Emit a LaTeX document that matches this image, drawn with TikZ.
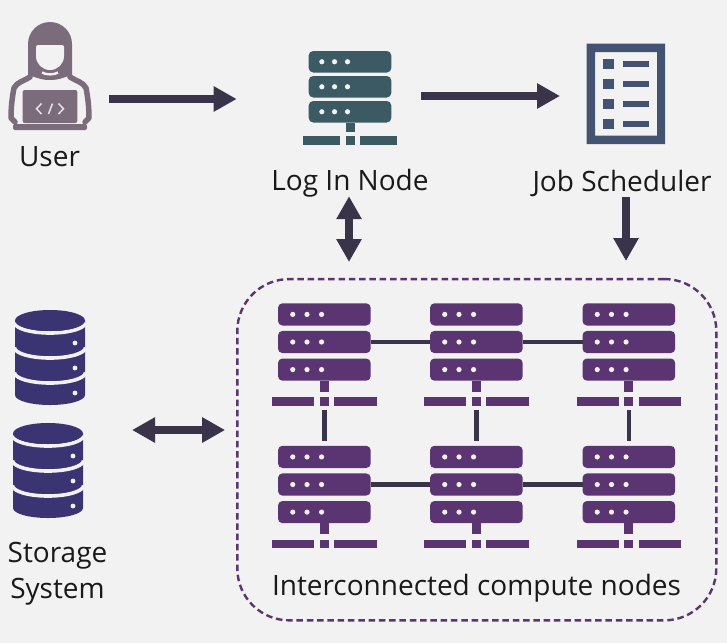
\documentclass[tikz,border=0pt]{standalone}
\usepackage{fontspec}
\setmainfont{Open Sans}
\usetikzlibrary{arrows.meta,calc}
\definecolor{bgc}{HTML}{F2F2F2}
\definecolor{usr}{HTML}{7B6C7B}
\definecolor{lgn}{HTML}{3B5A63}
\definecolor{sch}{HTML}{445372}
\definecolor{dbc}{HTML}{3A3473}
\definecolor{cmp}{HTML}{5B3571}
\definecolor{arc}{HTML}{39344A}
\tikzset{
  lbl/.style={font=\fontsize{28}{36}\selectfont,text=black!90,inner sep=0pt,align=center},
  box/.style={inner sep=0pt,outer sep=0pt,draw=none},
  arr/.style={line width=8pt,arc,-{Triangle[length=23pt,width=24pt]}},
  dbl/.style={line width=8pt,arc,{Triangle[length=23pt,width=24pt]}-{Triangle[length=23pt,width=24pt]}},
  link/.style={line width=4.5pt,arc},
  tier/.style={rounded corners=4.5pt,inner sep=0pt,outer sep=0pt,draw=none},
}
% name, x, y, colour, width, tier height, pitch, stem length, base offset
\newcommand{\rackicon}[9]{%
  \def\rx{#2}\def\ry{#3}\def\rw{#5}\def\rh{#6}\def\rp{#7}%
  \foreach \i/\sfx in {0/a,1/m,2/b}{%
    \node[tier,fill=#4,minimum width=\rw pt,minimum height=\rh pt] (#1\sfx)
      at ({\rx+\rw/2},{\ry+\i*\rp+\rh/2}) {};
    \foreach \d in {.159,.313,.47}
      \fill[bgc] ({\rx+\d*\rw},{\ry+\i*\rp+\rh/2}) circle (2.6pt);
  }%
  \pgfmathsetmacro\cx{\rx+\rw/2}%
  \pgfmathsetmacro\by{\ry+2*\rp+\rh}%
  \fill[#4] ({\cx-4.5},\by) rectangle ({\cx+4.5},{\by+#8});
  \fill[#4] ({\cx-4.5},{\by+#9}) rectangle ({\cx+4.5},{\by+#9+8.5});
  \fill[#4] ({\rx-6},{\by+#9}) rectangle ({\cx-10},{\by+#9+8.5});
  \fill[#4] ({\cx+10},{\by+#9}) rectangle ({\rx+\rw+6},{\by+#9+8.5});
  \node[box,minimum width={\rw+12},minimum height={\by+#9+8.5-\ry}] (#1)
    at (\cx,{(\ry+\by+#9+8.5)/2}) {};
}
\newcommand{\dbicon}[2]{% left x, top y
  \begin{scope}[shift={(#1,#2)}]
    \fill[dbc] (0,10) -- (0,85) arc[start angle=180,end angle=0,x radius=35,y radius=10] -- (70,10) -- cycle;
    \foreach \yy in {12.5,37.5,62.5}
      \draw[bgc,line width=3.6pt] (-.5,\yy) arc[start angle=180,end angle=0,x radius=35.5,y radius=10.5];
    \fill[dbc] (35,10.5) ellipse[x radius=35,y radius=10.5];
    \foreach \yy in {33,58,83}
      \fill[bgc] (60,\yy) circle (2.4pt);
  \end{scope}
}
\begin{document}
\begin{tikzpicture}[x=1pt,y=-1pt]
\useasboundingbox (0,0) rectangle (727,643);
\fill[bgc] (0,0) rectangle (727,643);

% user icon
\node[box,minimum width=84pt,minimum height=108pt] (user) at (50,76) {};
\fill[usr] (28,76) -- (28,44) arc[start angle=180,end angle=360,radius=22] -- (72,76)
   .. controls (64,76) and (62,80) .. (50,80) .. controls (38,80) and (36,76) .. (28,76) -- cycle;
\fill[bgc] (36,47) arc[start angle=180,end angle=270,radius=2] -- (62,45) arc[start angle=270,end angle=360,radius=2]
   -- (64,56) arc[start angle=0,end angle=180,radius=14] -- cycle;
\draw[bgc,line width=2.4pt] (42,72.5) .. controls (46,75) and (54,75) .. (58,72.5);
\draw[usr,line width=5.5pt,line join=round,line cap=round] (30,77) .. controls (24,81) and (17,82) .. (14,88)
   .. controls (12,98) and (11,108) .. (11,118) -- (15,122);
\draw[usr,line width=5.5pt,line join=round,line cap=round] (70,77) .. controls (76,81) and (83,82) .. (86,88)
   .. controls (88,98) and (89,108) .. (89,118) -- (85,122);
\fill[usr,rounded corners=2pt] (22.7,90) rectangle (77.3,123);
\fill[usr,rounded corners=2pt] (13,124) -- (87,124) -- (87,130) -- (13,130) -- cycle;
\draw[bgc!90!usr,line width=1.5pt] (41.5,103.5) -- (36.5,108.8) -- (41.5,114);
\draw[bgc!90!usr,line width=1.5pt] (52.5,103.5) -- (48.5,114);
\draw[bgc!90!usr,line width=1.5pt] (58.5,103.5) -- (63.5,108.8) -- (58.5,114);
\node[lbl] (userl) at (49.5,157) {User};

% login node
\rackicon{login}{308.7}{51}{lgn}{82.6}{21.5}{25}{9.5}{13.5}
\node[lbl] (loginl) at (350,183) {Log In Node};

% scheduler
\node[box,minimum width=78.5pt,minimum height=100.5pt] (sched) at (625.75,93.75) {};
\fill[sch,even odd rule] (586.5,43.5) rectangle (665,144) (595,52) rectangle (657,135.5);
\foreach \yy in {58.5,78.5,98.5,118.5}{
  \fill[sch] (603,\yy) rectangle (614,{\yy+10.5});
  \fill[sch] (623,{\yy+2.5}) rectangle (649,{\yy+8.5});
}
\node[lbl] (schedl) at (622,183) {Job Scheduler};

% storage
\dbicon{15}{310}
\dbicon{13}{423}
\node[box,minimum width=72pt,minimum height=208pt] (store) at (49,414) {};
\node[lbl] (storel) at (57.5,574) {Storage\\System};

% cluster
\node[draw=cmp,line width=2.4pt,dash pattern=on 6.5pt off 3.8pt,rounded corners=52pt,inner sep=0pt,
  minimum width=479pt,minimum height=341.3pt] (cluster) at (476.8,449.7) {};
\node[lbl] (clusterl) at (476.5,588) {Interconnected compute nodes};

% compute nodes
\foreach \nm/\xx/\yy in {c11/278/303.3,c12/430/303.3,c13/582.5/303.3,c21/278/445.8,c22/430/445.8,c23/582.5/445.8}{
  \rackicon{\nm}{\xx}{\yy}{cmp}{92.7}{22.2}{27.6}{11}{16.5}
}
\draw[link] (c11m) -- (c12m);
\draw[link] (c12m) -- (c13m);
\draw[link] (c21m) -- (c22m);
\draw[link] (c22m) -- (c23m);
\draw[link,shorten <=4.5pt,shorten >=4.5pt] (c11) -- (c21);
\draw[link,shorten <=4.5pt,shorten >=4.5pt] (c12) -- (c22);
\draw[link,shorten <=4.5pt,shorten >=4.5pt] (c13) -- (c23);

% arrows
\draw[arr,shorten <=17pt,shorten >=66pt] (user.east |- 0,99) -- (login.west |- 0,99);
\draw[arr,shorten <=24pt,shorten >=26.5pt] (login.east |- 0,96) -- (sched.west |- 0,96);
\draw[arr,shorten <=1pt,shorten >=18pt] (schedl.south -| 626,0) -- (626,279);
\draw[dbl,shorten <=-1pt,shorten >=17pt] (loginl.south -| 349,0) -- (349,279);
\draw[dbl,shorten <=47pt,shorten >=11pt] (store.east |- 0,430) -- (cluster.west |- 0,430);
\end{tikzpicture}
\end{document}
